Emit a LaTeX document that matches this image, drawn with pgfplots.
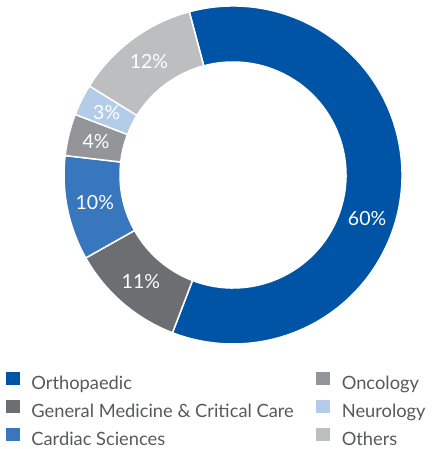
\documentclass[border=0pt]{standalone}
\usepackage{pgfplots}
\pgfplotsset{compat=1.18}
\usepackage{fontspec}
\setmainfont{Lato}
\definecolor{ortho}{HTML}{0054A5}
\definecolor{genmed}{HTML}{6D6E71}
\definecolor{cardiac}{HTML}{3877BD}
\definecolor{onco}{HTML}{939598}
\definecolor{neuro}{HTML}{B3CDE9}
\definecolor{others}{HTML}{BDBEC0}
\definecolor{legtext}{HTML}{58595B}
\newcommand\pctfont{\fontsize{19.5}{24}\selectfont}
\def\curang{105}
\newcommand\donutslice[4]{%
  \pgfmathsetmacro\endang{\curang-3.6*#1}%
  \pgfmathsetmacro\midang{(\curang+\endang)/2+#4}%
  \pgfmathsetmacro\inang{\endang+180}%
  \edef\x{\noexpand\fill[#2,draw=white,line width=1.5pt] (axis cs:233,274) ++(\curang:169pt) arc[start angle=\curang,end angle=\endang,radius=169pt] -- ++(\inang:56pt) arc[start angle=\endang,end angle=\curang,radius=113pt] -- cycle;}%
  \x
  \edef\x{\noexpand\node[text=white,inner sep=0pt,font=\noexpand\pctfont] at ([shift={(\midang:141pt)}]axis cs:233,274) {#3};}%
  \x
  \global\let\curang\endang
}
\begin{document}
\begin{tikzpicture}
\begin{axis}[name=ax,
  width=431pt, height=449pt, scale only axis,
  xmin=0, xmax=431, ymin=0, ymax=449, enlargelimits=false,
  hide axis, clip=false,
  legend columns=2,
  legend cell align=left,
  legend style={at={(axis cs:6,76.5)}, anchor=north west,
    draw=none, fill=none, inner sep=0pt, outer sep=0pt,
    font=\fontsize{18.3}{22}\selectfont, text=legtext,
    nodes={inner sep=0pt, text height=15pt, text depth=5pt},
    row sep=5.5pt, column sep=0pt,
    /tikz/every odd column/.append style={column sep=12.5pt}},
]
\donutslice{60}{ortho}{60\%}{-15}
\donutslice{11}{genmed}{11\%}{0}
\donutslice{10}{cardiac}{10\%}{0}
\donutslice{4}{onco}{4\%}{0}
\donutslice{3}{neuro}{3\%}{0}
\donutslice{12}{others}{12\%}{0}
\addlegendimage{legend image code/.code={\fill[ortho] (0pt,0pt) rectangle (12.5pt,12pt);}}
\addlegendentry{\makebox[285pt][l]{Orthopaedic}}
\addlegendimage{legend image code/.code={\fill[onco] (0pt,0pt) rectangle (12.5pt,12pt);}}
\addlegendentry{Oncology}
\addlegendimage{legend image code/.code={\fill[genmed] (0pt,0pt) rectangle (12.5pt,12pt);}}
\addlegendentry{\makebox[285pt][l]{General Medicine \& Critical Care}}
\addlegendimage{legend image code/.code={\fill[neuro] (0pt,0pt) rectangle (12.5pt,12pt);}}
\addlegendentry{Neurology}
\addlegendimage{legend image code/.code={\fill[cardiac] (0pt,0pt) rectangle (12.5pt,12pt);}}
\addlegendentry{\makebox[285pt][l]{Cardiac Sciences}}
\addlegendimage{legend image code/.code={\fill[others] (0pt,0pt) rectangle (12.5pt,12pt);}}
\addlegendentry{Others}
\end{axis}
\pgfresetboundingbox
\path (ax.south west) rectangle (ax.north east);
\end{tikzpicture}
\end{document}
